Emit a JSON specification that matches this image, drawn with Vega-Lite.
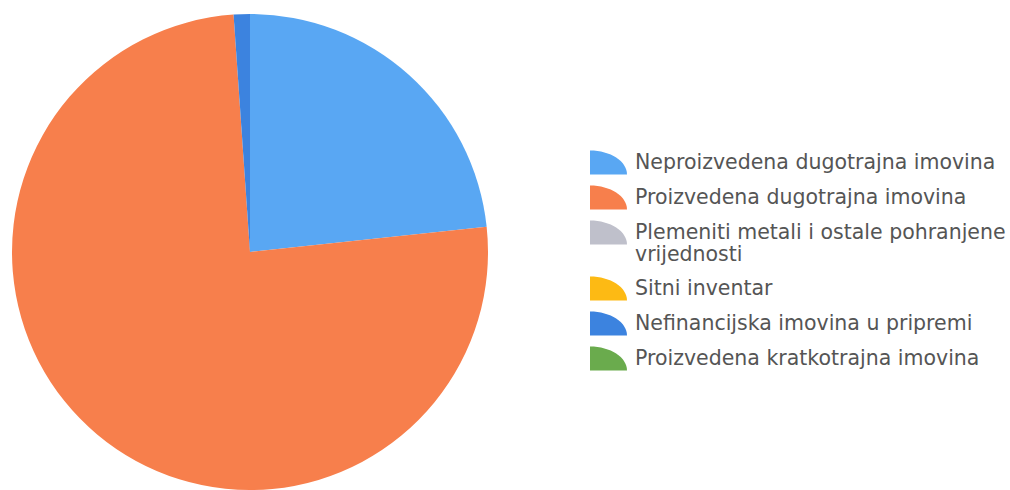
{
  "$schema": "https://vega.github.io/schema/vega-lite/v6.json",
  "width": 500,
  "height": 504,
  "padding": 0,
  "autosize": {"type": "pad"},
  "background": "white",
  "data": {
    "values": [
      {"idx": 1, "kategorija": "Neproizvedena dugotrajna imovina", "udio": 23.3},
      {"idx": 2, "kategorija": "Proizvedena dugotrajna imovina", "udio": 75.6},
      {"idx": 3, "kategorija": "Plemeniti metali i ostale pohranjene vrijednosti", "udio": 0},
      {"idx": 4, "kategorija": "Sitni inventar", "udio": 0},
      {"idx": 5, "kategorija": "Nefinancijska imovina u pripremi", "udio": 1.1},
      {"idx": 6, "kategorija": "Proizvedena kratkotrajna imovina", "udio": 0}
    ]
  },
  "mark": {"type": "arc", "outerRadius": 238, "stroke": null},
  "encoding": {
    "theta": {"field": "udio", "type": "quantitative", "stack": true},
    "order": {"field": "idx", "type": "quantitative"},
    "color": {
      "field": "kategorija",
      "type": "nominal",
      "sort": null,
      "scale": {
        "domain": [
          "Neproizvedena dugotrajna imovina",
          "Proizvedena dugotrajna imovina",
          "Plemeniti metali i ostale pohranjene vrijednosti",
          "Sitni inventar",
          "Nefinancijska imovina u pripremi",
          "Proizvedena kratkotrajna imovina"
        ],
        "range": ["#59a7f3", "#f77f4c", "#bfc0cb", "#fdba14", "#3c83df", "#6aab4d"]
      },
      "legend": {
        "title": null,
        "orient": "none",
        "legendX": 590,
        "legendY": 144,
        "symbolType": "M-1,0.65 L-1,-0.65 A2,1.3 0 0,1 1,0.65 Z",
        "symbolSize": 1369,
        "symbolStrokeWidth": 0,
        "symbolOpacity": 1,
        "labelFont": "DejaVu Sans",
        "labelFontSize": 20.5,
        "labelColor": "#555555",
        "labelOffset": 8,
        "labelLimit": 500,
        "rowPadding": 4,
        "labelExpr": "datum.label == 'Plemeniti metali i ostale pohranjene vrijednosti' ? ['Plemeniti metali i ostale pohranjene', 'vrijednosti'] : datum.label",
        "encoding": {
          "labels": {"update": {"lineHeight": {"value": 25}}}
        }
      }
    }
  },
  "config": {"view": {"stroke": null}}
}
